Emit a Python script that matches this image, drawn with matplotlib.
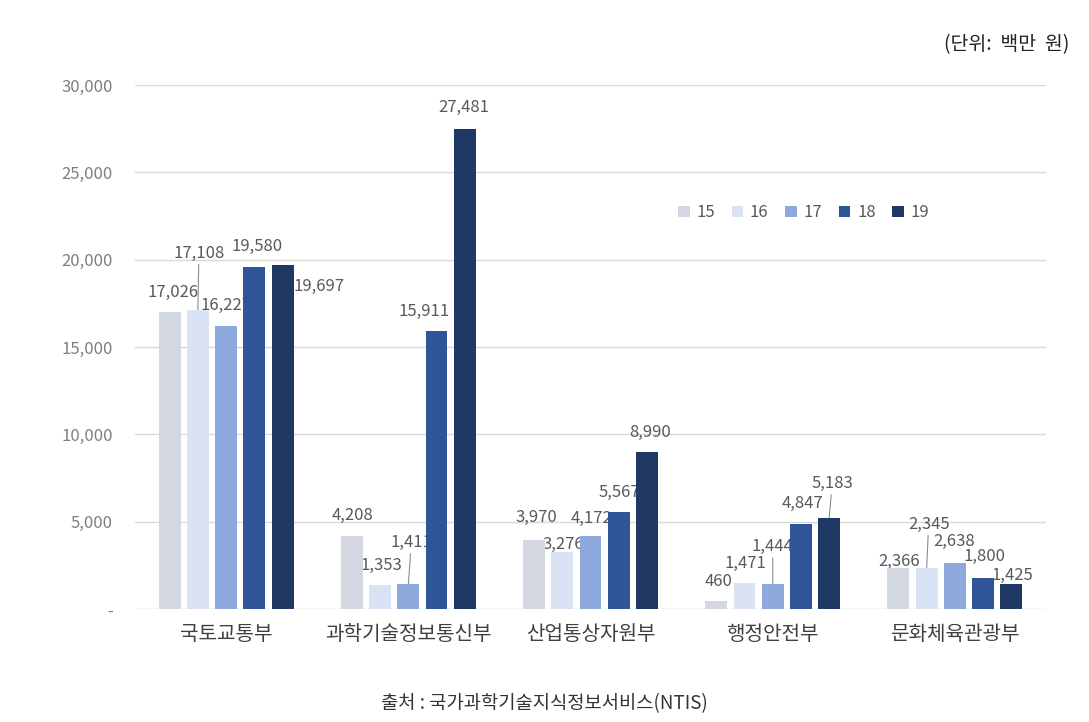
import numpy as np
import matplotlib.pyplot as plt

plt.rcParams['font.family'] = ['Noto Sans CJK KR', 'DejaVu Sans']

# data
ministries = ["국토교통부", "과학기술정보통신부", "산업통상자원부", "행정안전부", "문화체육관광부"]
years = ["15", "16", "17", "18", "19"]
v15 = [17026, 4208, 3970, 460, 2366]
v16 = [17108, 1353, 3276, 1471, 2345]
v17 = [16227, 1411, 4172, 1444, 2638]
v18 = [19580, 15911, 5567, 4847, 1800]
v19 = [19697, 27481, 8990, 5183, 1425]
yticks = [0, 5000, 10000, 15000, 20000, 25000, 30000]
ytick_labels = ["-", "5,000", "10,000", "15,000", "20,000", "25,000", "30,000"]

series = [v15, v16, v17, v18, v19]
colors = ["#d3d8e0", "#dae3f3", "#8eaadc", "#2f5597", "#1f3864"]

# label offsets in pixels from the top of each bar (dx, dy), and leader flags
offsets = [
    [(3, 19), (1, 57), (0, 20), (3, 21), (36, -22)],
    [(1, 20), (1, 20), (3, 42), (-12, 20), (-1, 22)],
    [(2, 22), (1, 7), (1, 18), (1, 19), (3, 20)],
    [(2, 19), (1, 20), (0, 37), (1, 21), (3, 35)],
    [(1, 6), (2, 44), (-1, 21), (1, 21), (1, 9)],
]
leaders = {(0, 1), (1, 2), (3, 2), (3, 4), (4, 1)}

fig = plt.figure(figsize=(10.89, 7.22), dpi=100)
ax = fig.add_axes([0.124, 0.1565, 0.8365, 0.7258])

x = np.arange(len(ministries))
step = 0.155
width = 0.12

for j, (vals, c) in enumerate(zip(series, colors)):
    xs = x + (j - 2) * step
    ax.bar(xs, vals, width, color=c, label=years[j], zorder=3)
    for i, v in enumerate(vals):
        dx, dy = offsets[i][j]
        kw = {}
        if (i, j) in leaders:
            kw["arrowprops"] = dict(arrowstyle="-", color="#8c8c8c", lw=0.8,
                                    shrinkA=0, shrinkB=0)
        ax.annotate(f"{v:,}", xy=(xs[i], v), xytext=(dx, dy),
                    textcoords="offset pixels", ha="center", va="center",
                    fontsize=12, color="#595959", zorder=2, **kw)

ax.set_xlim(-0.5, 4.5)
ax.set_ylim(0, 30000)
ax.set_yticks(yticks)
ax.set_yticklabels(ytick_labels, fontsize=12, color="#7f7f7f")
ax.set_xticks(x)
ax.set_xticklabels(ministries, fontsize=14.5, color="#404040")
ax.tick_params(axis="y", length=0, pad=16)
ax.tick_params(axis="x", length=0, pad=11)
ax.grid(axis="y", color="#d9d9d9", lw=1, zorder=0)
for s in ax.spines.values():
    s.set_visible(False)

ax.legend(loc="center", bbox_to_anchor=(0.738, 0.705), bbox_transform=fig.transFigure,
          ncol=5, frameon=False, fontsize=12, handlelength=0.7, handleheight=0.7,
          handletextpad=0.4, columnspacing=1.0, labelcolor="#595959")

fig.text(0.982, 0.938, "(단위:  백만  원)", ha="right", va="center", fontsize=14, color="#222222")
fig.text(0.5, 0.026, "출처 : 국가과학기술지식정보서비스(NTIS)", ha="center", va="center",
         fontsize=13.5, color="#333333")

fig.savefig("out.png", dpi=100)
